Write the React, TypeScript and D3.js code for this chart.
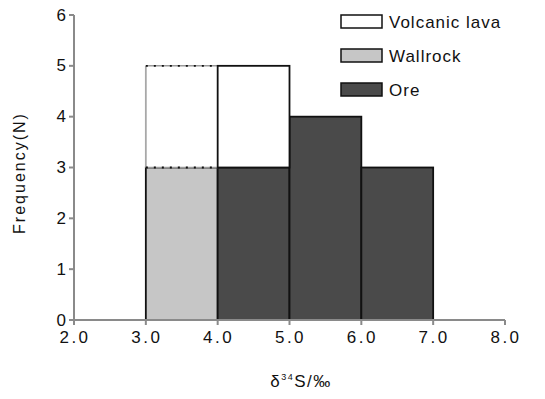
import React from 'react';
import * as d3 from 'd3';

// histogram bins of δ34S (‰), lower edges
const binStarts = [3, 4, 5, 6];
const binWidth = 1;
const wallrock = [3, 0, 0, 0];
const ore = [0, 3, 4, 3];
const volcanicLava = [2, 2, 0, 0];

const xTicks = [2, 3, 4, 5, 6, 7, 8];
const yTicks = [0, 1, 2, 3, 4, 5, 6];

const legendItems = [
  { label: 'Volcanic lava', color: '#ffffff' },
  { label: 'Wallrock', color: '#c6c6c6' },
  { label: 'Ore', color: '#4a4a4a' },
];

const W = 545;
const H = 399;
const margin = { left: 74, right: 40, top: 15, bottom: 78 };
const FONT = 'Liberation Sans, Arial, sans-serif';

export default function App() {
  const x = d3.scaleLinear().domain([2, 8]).range([margin.left, 505]);
  const y = d3.scaleLinear().domain([0, 6]).range([H - margin.bottom - 1, margin.top]);

  const rows = binStarts.map((s, i) => ({ start: s, wallrock: wallrock[i], ore: ore[i], lava: volcanicLava[i] }));
  const stacked = d3.stack<any>().keys(['wallrock', 'ore', 'lava'])(rows);
  const colors: Record<string, string> = { wallrock: '#c6c6c6', ore: '#4a4a4a', lava: '#ffffff' };

  const axisColor = '#8a8a8a';
  const y0 = y(0);

  return (
    <svg width={W} height={H} style={{ position: 'absolute', left: 0, top: 0, background: '#fff' }}>
      {/* bars */}
      {stacked.map((layer) =>
        layer.map((d, i) => {
          if (d[1] - d[0] <= 0) return null;
          const key = layer.key;
          const x0 = x(d.data.start);
          const x1 = x(d.data.start + binWidth);
          const top = y(d[1]);
          const bot = y(d[0]);
          // lava stacked over wallrock drawn with soft edges and dotted tops
          const soft = key === 'lava' && d.data.wallrock > 0;
          return (
            <g key={key + i}>
              <rect
                x={x0}
                y={top}
                width={x1 - x0}
                height={bot - top}
                fill={colors[key]}
                stroke={soft ? 'none' : '#111'}
                strokeWidth={1.8}
              />
              {soft && (
                <g>
                  <line x1={x0} x2={x0} y1={top} y2={bot} stroke="#a8a8a8" strokeWidth={1.8} />
                  <line x1={x0} x2={x1} y1={top} y2={top} stroke="#9a9a9a" strokeWidth={1.5} />
                  <line x1={x0} x2={x1} y1={top} y2={top} stroke="#111" strokeWidth={1.8} strokeDasharray="2,6" />
                  <line x1={x0} x2={x1} y1={bot} y2={bot} stroke="#9a9a9a" strokeWidth={1.5} />
                  <line x1={x0} x2={x1} y1={bot} y2={bot} stroke="#111" strokeWidth={1.8} strokeDasharray="2,6" />
                </g>
              )}
            </g>
          );
        })
      )}

      {/* y axis */}
      <line x1={margin.left} x2={margin.left} y1={y(6)} y2={y0} stroke={axisColor} strokeWidth={2} />
      {yTicks.map((t) => (
        <g key={'y' + t}>
          <line x1={margin.left - 5} x2={margin.left} y1={y(t)} y2={y(t)} stroke={axisColor} strokeWidth={2} />
          <text x={margin.left - 8} y={y(t)} dy="0.33em" textAnchor="end" fontFamily={FONT} fontSize={17} fill="#111">
            {t}
          </text>
        </g>
      ))}

      {/* x axis */}
      <line x1={margin.left} x2={x(8)} y1={y0} y2={y0} stroke={axisColor} strokeWidth={2} />
      {xTicks.map((t) => (
        <g key={'x' + t}>
          <line x1={x(t)} x2={x(t)} y1={y0} y2={y0 + 5} stroke={axisColor} strokeWidth={2} />
          <text x={x(t) + 1} y={y0 + 23} textAnchor="middle" fontFamily={FONT} fontSize={17} letterSpacing={2.5} fill="#111">
            {t.toFixed(1)}
          </text>
        </g>
      ))}

      {/* axis titles */}
      <text x={301} y={387} textAnchor="middle" fontFamily={FONT} fontSize={17} letterSpacing={1.5} fill="#111">
        δ<tspan fontSize={9} dy={-7}>34</tspan>
        <tspan dy={7}>S/‰</tspan>
      </text>
      <text
        transform={`translate(25,173) rotate(-90)`}
        textAnchor="middle"
        fontFamily={FONT}
        fontSize={16}
        letterSpacing={2}
        fill="#111"
      >
        Frequency(N)
      </text>

      {/* legend */}
      {legendItems.map((d, i) => (
        <g key={d.label} transform={`translate(341,${15 + i * 34})`}>
          <rect x={0} y={0} width={41} height={13} fill={d.color} stroke="#111" strokeWidth={1.5} />
          <text x={48} y={7} dy="0.35em" fontFamily={FONT} fontSize={17} letterSpacing={1} fill="#111">
            {d.label}
          </text>
        </g>
      ))}
    </svg>
  );
}
